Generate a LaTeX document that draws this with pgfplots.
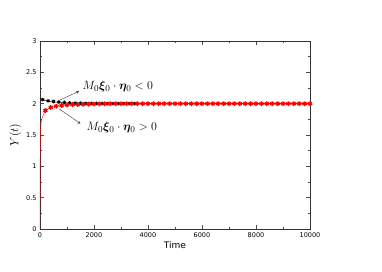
\documentclass[border=0pt]{standalone}
\usepackage{pgfplots}
\pgfplotsset{compat=1.18}
\usepackage{bm}
\usepackage{fontspec}
\setsansfont{DejaVu Sans}
\begin{document}
\begin{tikzpicture}
\useasboundingbox (-40pt,-42pt) rectangle (342pt,229pt);
\begin{axis}[
  scale only axis, width=270pt, height=188pt,
  xmin=0, xmax=10000, ymin=0, ymax=3,
  xtick={0,2000,4000,6000,8000,10000},
  minor xtick={1000,3000,5000,7000,9000},
  ytick={0,0.5,1,1.5,2,2.5,3},
  minor ytick={0.25,0.75,1.25,1.75,2.25,2.75},
  tick align=inside,
  major tick length=4pt, minor tick length=2pt,
  tick style={black!70, thin},
  axis line style={black!80, thin},
  scaled x ticks=false,
  /pgf/number format/assume math mode=true,
  /pgf/number format/1000 sep={},
  ticklabel style={font=\sffamily\fontsize{6.5}{7}\selectfont},
  xlabel={\sffamily\fontsize{9}{10}\selectfont Time},
  ylabel={\fontsize{12}{13}\selectfont $Y(t)$},
  xlabel style={yshift=3pt},
  ylabel style={yshift=-2pt},
  clip=false,
]
% black line
\addplot[black, thin] coordinates {
(0,2.08) (50,2.075) (100,2.065) (200,2.05) (300,2.04) (500,2.03) (700,2.02) (1000,2.012) (1500,2.006) (2000,2.003) (3000,2.0) (10000,2.0)};
% black marks
\addplot[only marks, black, mark=asterisk, mark size=1.8pt, line width=1pt] coordinates {
(100,2.065) (300,2.045) (500,2.035) (700,2.025) (900,2.018) (1100,2.012) (1300,2.009) (1500,2.007) (1700,2.005) (1900,2.004)
(2100,2.003) (2300,2.002) (2500,2.001) (2700,2.0) (2900,2.0) (3100,2.0) (3300,2.0) (3500,2.0)};
% red line
\addplot[red, thin] coordinates {
(0,0) (3,0.7) (8,1.2) (15,1.45) (25,1.6) (40,1.7) (70,1.76) (100,1.8) (150,1.85) (200,1.88) (300,1.92) (400,1.94) (500,1.95) (700,1.97) (1000,1.98) (1500,1.99) (2000,1.995) (3000,2.0) (10000,2.0)};
% red marks
\addplot[only marks, red, mark=asterisk, mark size=2.4pt, line width=1.3pt] coordinates {
(200,1.89) (400,1.94) (600,1.96) (800,1.97) (1000,1.98) (1200,1.985) (1400,1.988) (1600,1.99) (1800,1.993) (2000,1.995)
(2200,1.997) (2400,1.998) (2600,1.999) (2800,2.0) (3000,2.0) (3200,2.0) (3400,2.0) (3600,2.0) (3800,2.0) (4000,2.0)
(4200,2.0) (4400,2.0) (4600,2.0) (4800,2.0) (5000,2.0) (5200,2.0) (5400,2.0) (5600,2.0) (5800,2.0) (6000,2.0)
(6200,2.0) (6400,2.0) (6600,2.0) (6800,2.0) (7000,2.0) (7200,2.0) (7400,2.0) (7600,2.0) (7800,2.0) (8000,2.0)
(8200,2.0) (8400,2.0) (8600,2.0) (8800,2.0) (9000,2.0) (9200,2.0) (9400,2.0) (9600,2.0) (9800,2.0) (10000,2.0)};
\draw[->, >=stealth, black!80] (axis cs:650,2.04) -- (axis cs:1450,2.2);
\draw[->, >=stealth, black!80] (axis cs:700,1.92) -- (axis cs:1500,1.68);
\node[anchor=west, font=\fontsize{12.5}{13}\selectfont] at (axis cs:1450,2.27) {$M_0\bm{\xi}_0\cdot\bm{\eta}_0<0$};
\node[anchor=west, font=\fontsize{12.5}{13}\selectfont] at (axis cs:1600,1.62) {$M_0\bm{\xi}_0\cdot\bm{\eta}_0>0$};
\end{axis}
\end{tikzpicture}
\end{document}
